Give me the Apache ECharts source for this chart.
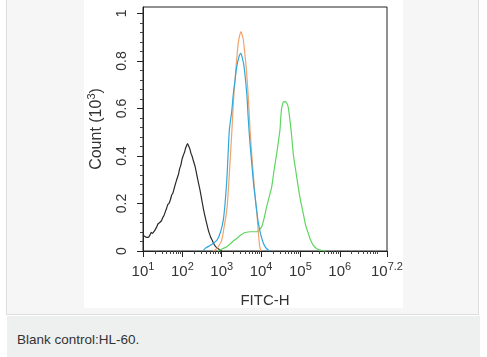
<!DOCTYPE html>
<html><head><meta charset="utf-8">
<script src="https://cdn.jsdelivr.net/npm/echarts@6/dist/echarts.min.js"></script>
<style>
html,body{margin:0;padding:0;width:487px;height:357px;background:#fff;overflow:hidden;font-family:Arial,'Liberation Sans',sans-serif}
#panel{position:absolute;left:6px;top:-1px;width:473px;height:316px;background:#f5f6f5;border:1px solid #dedede;box-sizing:border-box}
#cap{position:absolute;left:7px;top:316px;width:473px;height:41px;background:#eef0ef}
#captext{position:absolute;left:17px;top:333px;font-size:13.5px;line-height:14px;color:#333;white-space:nowrap}
#chart{position:absolute;left:84px;top:0;width:319px;height:308px;background:#fff}
</style></head>
<body>
<div id="panel"></div>
<div id="cap"></div>
<div id="captext">Blank control:HL-60.</div>
<div id="chart"></div>
<script>
// x values are decades (log10 of FITC-H), y values are counts in 10^3
const xTicks = [1, 2, 3, 4, 5, 6, 7, 7.2];
const yTicks = [0, 0.2, 0.4, 0.6, 0.8, 1];
const blankControl = [[1.0,0.068],[1.04,0.062],[1.09,0.057],[1.14,0.058],[1.18,0.068],[1.21,0.078],[1.24,0.074],[1.28,0.082],[1.31,0.09],[1.35,0.102],[1.38,0.114],[1.41,0.118],[1.44,0.122],[1.47,0.128],[1.5,0.14],[1.53,0.148],[1.56,0.162],[1.6,0.18],[1.63,0.196],[1.66,0.2],[1.7,0.218],[1.73,0.236],[1.76,0.244],[1.79,0.262],[1.82,0.28],[1.86,0.302],[1.9,0.322],[1.93,0.346],[1.96,0.36],[1.99,0.385],[2.03,0.405],[2.06,0.418],[2.08,0.432],[2.1,0.44],[2.13,0.452],[2.16,0.442],[2.19,0.43],[2.22,0.41],[2.25,0.398],[2.28,0.38],[2.32,0.358],[2.35,0.335],[2.38,0.31],[2.41,0.286],[2.45,0.255],[2.48,0.228],[2.51,0.2],[2.54,0.173],[2.57,0.15],[2.6,0.128],[2.63,0.108],[2.66,0.088],[2.69,0.072],[2.72,0.058],[2.76,0.045],[2.79,0.034],[2.83,0.022],[2.87,0.014],[2.92,0.008],[2.96,0.004],[3.0,0]];
const isotypeOrange = [[2.78,0],[2.83,0.004],[2.92,0.02],[3.0,0.046],[3.06,0.1],[3.13,0.173],[3.17,0.26],[3.21,0.37],[3.26,0.51],[3.3,0.636],[3.365,0.776],[3.42,0.875],[3.46,0.91],[3.49,0.923],[3.52,0.91],[3.55,0.888],[3.62,0.776],[3.68,0.636],[3.72,0.51],[3.78,0.37],[3.85,0.229],[3.9,0.144],[3.94,0.06],[3.97,0.015],[4.0,0]];
const isotypeBlue = [[2.52,0],[2.58,0.011],[2.72,0.025],[2.88,0.046],[2.97,0.08],[3.04,0.13],[3.09,0.21],[3.13,0.3],[3.16,0.4],[3.195,0.51],[3.256,0.59],[3.297,0.664],[3.34,0.72],[3.383,0.776],[3.44,0.818],[3.484,0.832],[3.52,0.815],[3.568,0.776],[3.636,0.664],[3.677,0.55],[3.72,0.45],[3.763,0.37],[3.805,0.29],[3.847,0.229],[3.89,0.17],[3.93,0.118],[3.99,0.07],[4.057,0.034],[4.12,0.014],[4.184,0.004],[4.23,0]];
const cd11bGreen = [[2.876,0],[2.95,0.004],[3.03,0.01],[3.129,0.018],[3.2,0.028],[3.28,0.04],[3.383,0.053],[3.47,0.065],[3.55,0.075],[3.63,0.079],[3.72,0.081],[3.81,0.081],[3.89,0.081],[3.96,0.09],[4.017,0.102],[4.08,0.14],[4.143,0.187],[4.21,0.23],[4.27,0.27],[4.33,0.34],[4.397,0.41],[4.44,0.46],[4.48,0.51],[4.5,0.56],[4.523,0.6],[4.56,0.625],[4.607,0.629],[4.65,0.624],[4.69,0.605],[4.734,0.55],[4.78,0.48],[4.818,0.41],[4.88,0.34],[4.944,0.27],[5.0,0.215],[5.071,0.159],[5.13,0.11],[5.198,0.075],[5.26,0.045],[5.325,0.025],[5.4,0.012],[5.494,0.004],[5.58,0.001],[5.66,0]];

const xMinor = [];
for (let d = 1; d < 8; d++) for (let k = 2; k <= 9; k++) { const v = d + Math.log10(k); if (v < 7.2) xMinor.push(v); }
const yMinor = [];
for (let i = 1; i < 25; i++) { if (i % 5 !== 0) yMinor.push(+(i * 0.04).toFixed(2)); }

const chart = echarts.init(document.getElementById('chart'));
const txt = '#333';
const lineS = (name, data, color, z, sm) => ({
  name, type: 'line', data, showSymbol: false, symbol: 'none', smooth: sm,
  lineStyle: { color, width: 1.2 }, z, xAxisIndex: 0, yAxisIndex: 0, animation: false
});
chart.setOption({
  animation: false,
  backgroundColor: '#fff',
  graphic: [{
    type: 'text', left: 124, top: -11, z: 10,
    style: { rich: { g: { fontSize: 13, fill: '#666', fontFamily: 'Arial' }, c: { fontSize: 13, fill: '#77dd77', fontFamily: 'Arial' } },
      text: '{g|CD11b / FITC-H  }{c|CD11b}' }
  }],
  grid: { left: 59, right: 16, top: 7, bottom: 57, show: true, borderColor: '#222', borderWidth: 1, backgroundColor: 'transparent', containLabel: false, outerBoundsMode: 'none' },
  xAxis: [{
    type: 'value', min: 1, max: 7.2, interval: 1,
    axisLine: { show: true, lineStyle: { color: '#222', width: 1 } },
    axisTick: { show: true, inside: false, length: 6, lineStyle: { color: '#222' }, customValues: xTicks },
    splitLine: { show: false },
    axisLabel: {
      customValues: xTicks, margin: 10, color: txt, hideOverlap: false, showMaxLabel: true, showMinLabel: true,
      formatter: v => '{b|10}{s|' + (Math.round(v * 10) / 10) + '}',
      rich: {
        b: { fontSize: 15, color: txt, fontFamily: 'Arial', verticalAlign: 'bottom', lineHeight: 18 },
        s: { fontSize: 11, color: txt, fontFamily: 'Arial', verticalAlign: 'top', lineHeight: 11 }
      }
    },
    name: 'FITC-H', nameLocation: 'middle', nameGap: 42,
    nameTextStyle: { fontSize: 15, color: txt, fontFamily: 'Arial' }
  }, {
    type: 'value', min: 1, max: 7.2, position: 'bottom', offset: 0,
    axisLine: { show: false }, splitLine: { show: false }, axisLabel: { show: false },
    axisTick: { show: true, inside: false, length: 3, lineStyle: { color: '#444' }, customValues: xMinor }
  }],
  yAxis: [{
    type: 'value', min: 0, max: 1.027,
    axisLine: { show: true, lineStyle: { color: '#222', width: 1 } },
    axisTick: { show: true, inside: false, length: 6, lineStyle: { color: '#222' }, customValues: yTicks },
    splitLine: { show: false },
    axisLabel: {
      customValues: yTicks, rotate: 90, margin: 14, color: txt, fontSize: 14, hideOverlap: false,
      fontFamily: "'Liberation Sans Narrow','Arial Narrow',Arial",
      formatter: v => (v === 0 ? '0' : v === 1 ? '1' : v.toFixed(1))
    },
    name: '{a|Count (10}{s|3}{a|)}', nameLocation: 'middle', nameGap: 38, nameRotate: 90,
    nameTextStyle: { rich: {
      a: { fontSize: 16, color: txt, fontFamily: 'Arial', verticalAlign: 'bottom', lineHeight: 19 },
      s: { fontSize: 11, color: txt, fontFamily: 'Arial', verticalAlign: 'top', lineHeight: 11 }
    } }
  }, {
    type: 'value', min: 0, max: 1.027, position: 'left', offset: 0,
    axisLine: { show: false }, splitLine: { show: false }, axisLabel: { show: false },
    axisTick: { show: true, inside: false, length: 3, lineStyle: { color: '#444' }, customValues: yMinor }
  }],
  series: [
    lineS('Blank control', blankControl, '#2a2a2a', 3, 0.15),
    lineS('CD11b', cd11bGreen, '#5fd65f', 4, 0.3),
    lineS('Isotype (orange)', isotypeOrange, '#f1a36c', 5, 0.3),
    lineS('Isotype (blue)', isotypeBlue, '#2fa8dc', 6, 0.3)
  ]
});
</script>
</body></html>
